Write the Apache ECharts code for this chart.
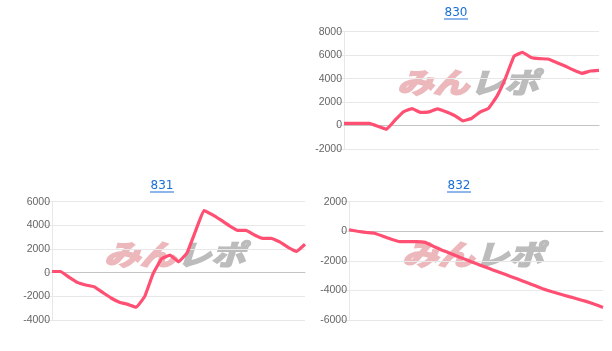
<!DOCTYPE html>
<html>
<head>
<meta charset="utf-8">
<script src="https://cdn.jsdelivr.net/npm/echarts@6/dist/echarts.min.js"></script>
<style>
html,body{margin:0;padding:0;background:#fff;}
#c{width:612px;height:351px;}
</style>
</head>
<body>
<div id="c"></div>
<script>
// Chart titles
const titles = ['830', '831', '832'];
// x categories (31 evenly spaced samples per series)
const categories = Array.from({length: 31}, (_, i) => String(i + 1));
// Series values
const values830 = [190, 190, 190, 190, -60, -320, 455, 1180, 1450, 1120, 1162, 1420, 1170, 856, 400, 597, 1143, 1469, 2510, 4050, 5900, 6250, 5800, 5700, 5670, 5376, 5082, 4730, 4450, 4646, 4700];
const values831 = [100, 100, -370, -817, -1040, -1190, -1666, -2140, -2500, -2680, -2920, -2000, -60, 1177, 1480, 920, 1660, 3480, 5250, 4910, 4460, 3980, 3580, 3580, 3190, 2900, 2900, 2610, 2140, 1800, 2400];
const values832 = [100, 0, -80, -130, -330, -540, -700, -700, -700, -752, -1025, -1278, -1505, -1734, -1963, -2183, -2397, -2611, -2823, -3037, -3250, -3470, -3690, -3912, -4092, -4256, -4420, -4580, -4740, -4936, -5150];
// Y axis ranges / ticks
const yRanges = [[-2000, 8000], [-4000, 6000], [-6000, 2000]];
const yInterval = 2000;
const watermarkPink = 'みん';
const watermarkGray = 'レポ';

const chart = echarts.init(document.getElementById('c'), null, {renderer: 'canvas'});

const grids = [
  {left: 344, right: 13, top: 31.7, height: 117.3},
  {left: 52, width: 253, top: 201.7, height: 118.3},
  {left: 349, width: 254, top: 201.7, height: 118.3}
];
const seriesData = [values830, values831, values832];
const gridColor = '#e8e8e8';
const lineColor = '#ff5073';

const xAxes = grids.map((g, i) => ({
  type: 'category', gridIndex: i, data: categories, boundaryGap: false,
  axisLabel: {show: false}, axisTick: {show: false},
  axisLine: {show: true, onZero: true, lineStyle: {color: '#c4c4c4', width: 1}},
  splitLine: {show: false}, z: 1
}));
const yAxes = grids.map((g, i) => ({
  type: 'value', gridIndex: i, min: yRanges[i][0], max: yRanges[i][1], interval: yInterval,
  axisLine: {show: true, lineStyle: {color: gridColor}},
  axisTick: {show: true, length: 8, lineStyle: {color: gridColor}},
  axisLabel: {color: '#666', fontSize: 10.5, fontFamily: 'Liberation Sans, Arial, sans-serif', margin: 2,
    formatter: v => String(v)},
  splitLine: {show: true, lineStyle: {color: gridColor}}, z: 1
}));
const series = seriesData.map((d, i) => ({
  type: 'line', xAxisIndex: i, yAxisIndex: i, data: d, showSymbol: false, symbol: 'none',
  smooth: 0.08, lineStyle: {color: lineColor, width: 3.2}, z: 5, animation: false
}));

const titlePos = [[456, 13], [162, 186], [459, 186]];
const wmPos = [[397, 82], [104, 254], [402, 254]];
const graphic = [];
titles.forEach((t, i) => {
  const [cx, cy] = titlePos[i];
  graphic.push({type: 'text', x: cx, y: cy, style: {text: t, fill: '#1a6fd6', font: '12px "DejaVu Sans", Verdana, sans-serif', textAlign: 'center', textVerticalAlign: 'middle'}, z: 10});
  graphic.push({type: 'rect', shape: {x: cx - 12, y: cy + 5.5, width: 24, height: 1}, style: {fill: '#1a6fd6'}, z: 10});
});
wmPos.forEach(([x, y]) => {
  graphic.push({type: 'text', x: x, y: y, scaleY: 0.78, scaleX: 1.0, style: {text: watermarkPink, fill: '#ecb8bc', stroke: '#ecb8bc', lineWidth: 2.5, font: 'italic bold 36px "Noto Sans CJK JP", sans-serif', textVerticalAlign: 'middle'}, z: -1});
  graphic.push({type: 'text', x: x + 73, y: y, scaleY: 0.78, scaleX: 0.95, style: {text: watermarkGray, fill: '#bcbcbc', stroke: '#bcbcbc', lineWidth: 2.5, font: 'italic bold 36px "Noto Sans CJK JP", sans-serif', textVerticalAlign: 'middle'}, z: -1});
});

chart.setOption({
  animation: false,
  grid: grids.map(g => Object.assign({containLabel: false}, g)),
  xAxis: xAxes,
  yAxis: yAxes,
  series: series,
  graphic: graphic
});
</script>
</body>
</html>
